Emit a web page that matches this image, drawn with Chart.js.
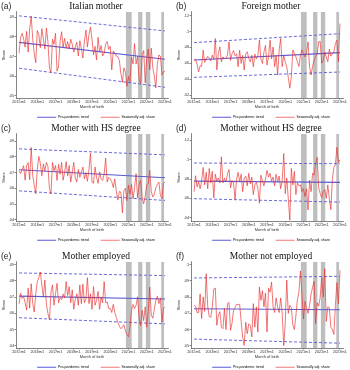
<!DOCTYPE html>
<html>
<head>
<meta charset="UTF-8">
<title>Seasonally adjusted birth shares by mother group</title>
<script src="https://cdn.jsdelivr.net/npm/chart.js"></script>
<style>
  body { margin: 0; width: 350px; height: 370px; overflow: hidden; background: #fff; position: relative; }
  .panel { position: absolute; }
  .panel canvas { position: absolute; left: 0; top: 0; }
  .tag { position: absolute; left: 1px; top: 2px; font: 8.5px "Liberation Sans", Arial, sans-serif; color: #222; line-height: 1; }
</style>
</head>
<body>
<script>
// month index 0 = 2015m1 ... 96 = 2023m1
const monthTicks = [0, 12, 24, 36, 48, 60, 72, 84, 96];
const monthLabels = ['2015m1', '2016m1', '2017m1', '2018m1', '2019m1', '2020m1', '2021m1', '2022m1', '2023m1'];

// grey shaded periods (month index)
const shadeFrom = [70.2, 78.3, 83.3, 93.5];
const shadeTo = [74.2, 81.3, 86.5, 95.5];

// seasonally adjusted shares, 2015m1-2023m1
const italianShare = [
  .0716, .0795, .0818, .0790, .0748, .0828, .0722, .0840, .0905, .0790,
  .0715, .0668, .0832, .0812, .0745, .0842, .0788, .0738, .0845, .0775,
  .0642, .0618, .0788, .0762, .0818, .0625, .0648, .0778, .0826, .0748,
  .0792, .0742, .0776, .0738, .0788, .0762, .0722, .0748, .0772, .0702,
  .0780, .0742, .0692, .0778, .0835, .0748, .0812, .0850, .0788, .0708,
  .0752, .0682, .0798, .0722, .0756, .0702, .0716, .0764, .0776, .0736,
  .0752, .0632, .0728, .0718, .0702, .0698, .0680, .0612, .0568, .0642,
  .0620, .0548, .0598, .0572, .0698, .0662, .0765, .0662, .0702, .0580,
  .0564, .0708, .0730, .0566, .0688, .0738, .0632, .0742, .0642, .0600,
  .0540, .0662, .0708, .0702, .0606, .0620, .0625];
const foreignShare = [
  .0640, .0650, .0585, .0492, .0570, .0560, .0765, .0612, .0650, .0688,
  .0668, .0628, .0702, .0648, .0912, .0518, .0722, .0808, .0618, .0680,
  .0662, .0660, .0705, .0870, .0635, .0722, .0760, .0695, .0720, .0556,
  .0765, .0598, .0700, .0515, .0720, .0745, .0660, .0618, .0700, .0556,
  .0715, .0656, .0700, .0892, .0655, .0598, .0745, .0825, .0578, .0680,
  .0892, .0655, .0805, .0558, .0700, .0452, .0768, .0912, .0558, .0700,
  .0618, .0556, .0420, .0286, .0430, .0768, .0720, .0680, .0620, .0560,
  .0700, .0768, .0720, .0680, .0740, .0870, .0560, .0452, .0560, .0640,
  .0680, .0720, .0870, .0875, .0600, .0640, .0740, .0680, .0620, .0780,
  .0690, .0720, .0740, .0850, .0890, .0620, .1100];
const hsShare = [
  .0712, .0694, .0718, .0744, .0652, .0745, .0764, .0655, .0860, .0682,
  .0620, .0565, .0720, .0803, .0760, .0680, .0755, .0710, .0765, .0740,
  .0600, .0565, .0765, .0712, .0745, .0650, .0752, .0690, .0765, .0652,
  .0702, .0770, .0680, .0745, .0640, .0700, .0765, .0665, .0640, .0720,
  .0670, .0700, .0735, .0660, .0700, .0645, .0720, .0823, .0640, .0632,
  .0735, .0670, .0632, .0705, .0660, .0650, .0690, .0793, .0640, .0670,
  .0660, .0642, .0605, .0660, .0582, .0525, .0580, .0575, .0445, .0585,
  .0600, .0522, .0620, .0562, .0625, .0535, .0605, .0693, .0540, .0625,
  .0650, .0540, .0502, .0548, .0620, .0632, .0715, .0580, .0545, .0560,
  .0605, .0625, .0640, .0555, .0535, .0630, .0642];
const noHsShare = [
  .0670, .0835, .0720, .0770, .0700, .0780, .0920, .0740, .0870, .0700,
  .0910, .0760, .0880, .0605, .0850, .0780, .0810, .0760, .1030, .0760,
  .0810, .0770, .0850, .0900, .0710, .0785, .0760, .0590, .0800, .0870,
  .0770, .0850, .0670, .0810, .0830, .0730, .0860, .0750, .0820, .0640,
  .0740, .0765, .0700, .0550, .0840, .0780, .0730, .0800, .0890, .0820,
  .0860, .0780, .0820, .0730, .0850, .0770, .0830, .0700, .0780, .1065,
  .0650, .0810, .0600, .0375, .0910, .0740, .0880, .0640, .0760, .0730,
  .0740, .0670, .0700, .0620, .0700, .0480, .0790, .0670, .0860, .0840,
  .0960, .1025, .0710, .0650, .0610, .0670, .0690, .0600, .0740, .0600,
  .0485, .0800, .0920, .0950, .1130, .0970, .1000];
const employedShare = [
  .0658, .0725, .0692, .0705, .0665, .0620, .0755, .0632, .0782, .0660,
  .0608, .0720, .0795, .0820, .0855, .0775, .0700, .0805, .0655, .0600,
  .0560, .0730, .0775, .0650, .0720, .0785, .0665, .0695, .0685, .0720,
  .0695, .0795, .0710, .0765, .0665, .0745, .0625, .0685, .0720, .0650,
  .0775, .0660, .0780, .0665, .0690, .0820, .0660, .0720, .0625, .0765,
  .0650, .0680, .0735, .0625, .0700, .0665, .0795, .0665, .0670, .0630,
  .0630, .0605, .0655, .0605, .0575, .0545, .0520, .0505, .0515, .0530,
  .0490, .0470, .0455, .0520, .0620, .0655, .0630, .0650, .0702, .0570,
  .0525, .0620, .0555, .0640, .0515, .0610, .0762, .0590, .0570, .0625,
  .0680, .0705, .0660, .0695, .0545, .0630, .0640];
const notEmployedShare = [
  .0750, .0745, .0705, .0705, .0820, .0668, .0800, .0712, .0944, .0740,
  .0680, .0675, .0740, .0850, .0856, .0626, .0690, .0710, .0615, .0605,
  .0730, .0600, .0760, .0768, .0595, .0640, .0720, .0735, .0755, .0755,
  .0755, .0650, .0553, .0502, .0645, .0575, .0635, .0625, .0555, .0760,
  .0615, .0740, .0585, .0862, .0780, .0840, .0740, .0825, .0585, .0855,
  .0830, .0893, .0740, .0705, .0795, .0740, .0705, .0795, .0700, .0500,
  .0640, .0905, .0700, .0750, .0735, .0630, .0600, .0685, .0785, .0830,
  .0961, .0815, .0665, .0775, .0735, .0700, .0750, .0820, .0860, .0897,
  .0636, .0765, .0745, .0800, .0920, .0800, .0975, .0650, .0740, .0735,
  .0615, .0600, .0570, .0750, .0890, .0759, .0965];

// pre-pandemic trend and its bands: [2015m1, 2023m1]
const italianTrend = [.0772, .0686], italianUpper = [.0907, .0830], italianLower = [.0640, .0543];
const foreignTrend = [.0641, .0734], foreignUpper = [.0860, .0973], foreignLower = [.0423, .0490];
const hsTrend = [.0718, .0667], hsUpper = [.0851, .0813], hsLower = [.0584, .0523];
const noHsTrend = [.0779, .0766], noHsUpper = [.0966, .0959], noHsLower = [.0597, .0562];
const employedTrend = [.0706, .0688], employedUpper = [.0849, .0833], employedLower = [.0573, .0535];
const notEmployedTrend = [.0728, .0722], notEmployedUpper = [.0918, .0928], notEmployedLower = [.0541, .0516];

// y tick values
const italianTicks = [.05, .06, .07, .08, .09];
const foreignTicks = [.02, .04, .06, .08, .1, .12];
const hsTicks = [.04, .05, .06, .07, .08, .09];
const noHsTicks = [.04, .06, .08, .1, .12];
const employedTicks = [.04, .05, .06, .07, .08, .09];
const notEmployedTicks = [.05, .06, .07, .08, .09, .1];

const panels = [
  { tag: 'a', title: 'Italian mother', share: italianShare, trend: italianTrend, upper: italianUpper, lower: italianLower, ticks: italianTicks, min: .0488, max: .0927, left: 0, top: 0, h: 129 },
  { tag: 'b', title: 'Foreign mother', share: foreignShare, trend: foreignTrend, upper: foreignUpper, lower: foreignLower, ticks: foreignTicks, min: .0162, max: .1247, left: 175, top: 0, h: 129 },
  { tag: 'c', title: 'Mother with HS degree', share: hsShare, trend: hsTrend, upper: hsUpper, lower: hsLower, ticks: hsTicks, min: .0392, max: .0946, left: 0, top: 121.5, h: 130 },
  { tag: 'd', title: 'Mother without HS degree', share: noHsShare, trend: noHsTrend, upper: noHsUpper, lower: noHsLower, ticks: noHsTicks, min: .0366, max: .1267, left: 175, top: 121.5, h: 130 },
  { tag: 'e', title: 'Mother employed', share: employedShare, trend: employedTrend, upper: employedUpper, lower: employedLower, ticks: employedTicks, min: .0386, max: .0917, left: 0, top: 249.5, h: 129 },
  { tag: 'f', title: 'Mother not employed', share: notEmployedShare, trend: notEmployedTrend, upper: notEmployedUpper, lower: notEmployedLower, ticks: notEmployedTicks, min: .0486, max: .1017, left: 175, top: 249.5, h: 129 }
];

const blue = '#5a5ad6';
const red = 'rgba(232, 45, 45, 0.65)';
const grey = '#bebebe';
const ink = '#333';
const sans = '"Liberation Sans", Arial, sans-serif';
const serif = '"Liberation Serif", "Times New Roman", serif';

const legendItems = [
  { text: 'Pre-pandemic trend', fillStyle: blue, strokeStyle: blue, lineWidth: 0, hidden: false, datasetIndex: 1 },
  { text: 'Seasonally adj. share', fillStyle: red, strokeStyle: red, lineWidth: 0, hidden: false, datasetIndex: 0 }
];

function ends(pair) {
  return [{ x: 0, y: pair[0] }, { x: 96, y: pair[1] }];
}

function fmtShare(v) {
  return String(+v.toFixed(3)).replace(/^0/, '');
}

function drawPanel(p) {
  const wrap = document.createElement('div');
  wrap.className = 'panel';
  wrap.style.left = p.left + 'px';
  wrap.style.top = p.top + 'px';
  const canvas = document.createElement('canvas');
  canvas.width = 192;
  canvas.height = p.h;
  const tag = document.createElement('span');
  tag.className = 'tag';
  tag.textContent = '(' + p.tag + ')';
  wrap.appendChild(canvas);
  wrap.appendChild(tag);
  document.body.appendChild(wrap);

  const datasets = [
    { label: 'Seasonally adj. share', data: p.share.map((v, i) => ({ x: i, y: v })), borderColor: red, borderWidth: 1, order: 0 },
    { label: 'Pre-pandemic trend', data: ends(p.trend), borderColor: blue, borderWidth: 1.1, order: 1 },
    { label: 'upper band', data: ends(p.upper), borderColor: blue, borderWidth: 0.9, borderDash: [3, 2], order: 2 },
    { label: 'lower band', data: ends(p.lower), borderColor: blue, borderWidth: 0.9, borderDash: [3, 2], order: 2 }
  ];
  shadeFrom.forEach((from, k) => {
    datasets.push({
      label: 'shade',
      data: [{ x: from, y: p.max }, { x: shadeTo[k], y: p.max }],
      borderColor: grey, backgroundColor: grey, borderWidth: 0.5,
      fill: 'start', order: 5
    });
  });

  new Chart(canvas, {
    type: 'line',
    data: { datasets: datasets },
    options: {
      responsive: false,
      animation: false,
      events: [],
      layout: { padding: 0 },
      elements: { point: { radius: 0 }, line: { tension: 0 } },
      plugins: {
        tooltip: { enabled: false },
        title: {
          display: true, text: p.title, color: '#111',
          font: { family: serif, size: 9.5, weight: 'normal', lineHeight: 1.15 },
          padding: { top: 1, bottom: 0 }
        },
        legend: {
          position: 'bottom',
          labels: {
            font: { family: sans, size: 3.5 }, color: ink,
            boxWidth: 19, boxHeight: 1, padding: 12,
            generateLabels: () => legendItems
          }
        }
      },
      scales: {
        x: {
          type: 'linear', min: -2, max: 98,
          grid: { drawOnChartArea: false, tickLength: 1.5, color: ink, lineWidth: 0.6 },
          border: { color: ink, width: 0.6 },
          ticks: {
            font: { family: sans, size: 3.8 }, color: ink, padding: 0.5,
            maxRotation: 0, autoSkip: false,
            callback: v => monthLabels[monthTicks.indexOf(v)]
          },
          afterBuildTicks: axis => { axis.ticks = monthTicks.map(v => ({ value: v })); },
          title: { display: true, text: 'Month of birth', color: ink, font: { family: sans, size: 4 }, padding: { top: 0, bottom: -6.25 } },
          afterFit: axis => { axis.height = 5.45; }
        },
        y: {
          min: p.min, max: p.max,
          grid: { drawOnChartArea: false, tickLength: 1.5, color: ink, lineWidth: 0.6 },
          border: { color: ink, width: 0.6 },
          ticks: { font: { family: sans, size: 3.8 }, color: ink, padding: 0.5, callback: v => fmtShare(v) },
          afterBuildTicks: axis => { axis.ticks = p.ticks.map(v => ({ value: v })); },
          title: { display: true, text: 'Share', color: ink, font: { family: sans, size: 4 }, padding: { top: 1.6, bottom: 0 } },
          afterFit: axis => { axis.width = 16; }
        },
        // empty right margin so title and legend centre like the original
        y2: {
          position: 'right',
          grid: { display: false },
          border: { display: false },
          ticks: { display: false },
          afterFit: axis => { axis.width = 24; }
        }
      }
    }
  });
}

panels.forEach(drawPanel);
</script>
</body>
</html>
